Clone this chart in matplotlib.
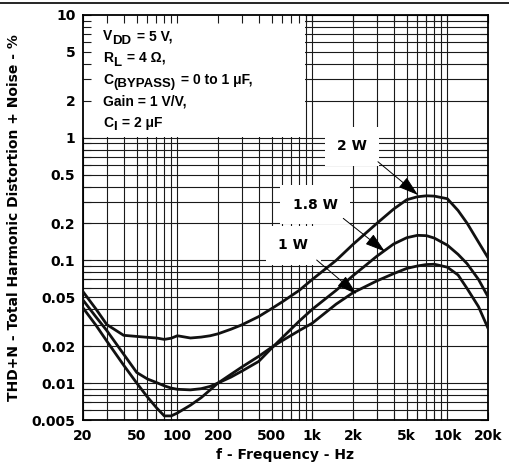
import numpy as np
import matplotlib
matplotlib.use("Agg")
import matplotlib.pyplot as plt
from matplotlib.patches import Rectangle
from matplotlib.lines import Line2D

plt.rcParams['font.family'] = ['DejaVu Sans']
plt.rcParams['font.weight'] = 'bold'
plt.rcParams['font.size'] = 10

# frequency points (Hz)
freq = [20, 25, 30, 40, 50, 60, 70, 80, 90, 100, 125, 150, 175, 200, 250, 300,
        400, 500, 600, 800, 1000, 1500, 2000, 3000, 4000, 5000, 6000, 7000,
        8000, 10000, 12000, 14000, 17000, 20000]

# THD+N (%) per output power
thd_2w = [0.0556, 0.040, 0.030, 0.0245, 0.0240, 0.0236, 0.0233, 0.0227, 0.0232,
          0.0243, 0.0233, 0.0237, 0.0243, 0.0252, 0.0275, 0.0298, 0.0348, 0.0405,
          0.0460, 0.0570, 0.070, 0.100, 0.135, 0.200, 0.262, 0.312, 0.330, 0.336,
          0.334, 0.318, 0.255, 0.201, 0.141, 0.105]
thd_18w = [0.0475, 0.0345, 0.0268, 0.0172, 0.0122, 0.0108, 0.0101, 0.0095, 0.0091,
           0.0089, 0.0088, 0.0090, 0.0094, 0.0100, 0.0112, 0.0125, 0.0150, 0.0193,
           0.0235, 0.0320, 0.040, 0.057, 0.075, 0.108, 0.136, 0.153, 0.160, 0.159,
           0.152, 0.133, 0.112, 0.094, 0.070, 0.0506]
thd_1w = [0.041, 0.0295, 0.0220, 0.0140, 0.0100, 0.0077, 0.0063, 0.0054, 0.0054,
          0.0057, 0.0066, 0.0076, 0.0088, 0.0100, 0.0118, 0.0135, 0.0165, 0.0196,
          0.0222, 0.0268, 0.0308, 0.0440, 0.0545, 0.0680, 0.0780, 0.0860, 0.0900,
          0.0925, 0.0930, 0.0880, 0.0760, 0.0590, 0.0420, 0.0280]

x_ticks = [20, 50, 100, 200, 500, 1000, 2000, 5000, 10000, 20000]
x_labels = ['20', '50', '100', '200', '500', '1k', '2k', '5k', '10k', '20k']
y_ticks = [0.005, 0.01, 0.02, 0.05, 0.1, 0.2, 0.5, 1, 2, 5, 10]
y_labels = ['0.005', '0.01', '0.02', '0.05', '0.1', '0.2', '0.5', '1', '2', '5', '10']

# test conditions: (text, is_subscript) pieces per line
conditions = [[('V', False), ('DD', True), (' = 5 V,', False)],
              [('R', False), ('L', True), (' = 4 Ω,', False)],
              [('C', False), ('(BYPASS)', True), (' = 0 to 1 μF,', False)],
              [('Gain = 1 V/V,', False)],
              [('C', False), ('I', True), (' = 2 μF', False)]]

W, H = 510, 470
fig = plt.figure(figsize=(W / 100, H / 100), dpi=100)
ax = fig.add_axes([83 / W, 50 / H, 405 / W, 405 / H])
ax.set_xscale('log')
ax.set_yscale('log')
ax.set_xlim(20, 20000)
ax.set_ylim(0.005, 10)

# dense log grid, drawn by hand so the white boxes can sit on top of it
grid_x = [m * 10 ** e for e in range(1, 5) for m in range(1, 10)]
grid_x = [v for v in grid_x if 20 <= v <= 20000]
grid_y = [m * 10.0 ** e for e in range(-3, 2) for m in range(1, 10)]
grid_y = [v for v in grid_y if 0.005 <= v <= 10]
for v in grid_x:
    ax.axvline(v, color='#1a1a1a', lw=0.8, zorder=0.5)
for v in grid_y:
    ax.axhline(v, color='#1a1a1a', lw=0.8, zorder=0.5)

ax.set_xticks(x_ticks)
ax.set_xticklabels(x_labels)
ax.set_xticks(grid_x, minor=True)
ax.set_yticks(y_ticks)
ax.set_yticklabels(y_labels)
ax.set_yticks(grid_y, minor=True)
ax.xaxis.set_minor_formatter(plt.NullFormatter())
ax.yaxis.set_minor_formatter(plt.NullFormatter())
ax.tick_params(which='both', direction='in', top=True, right=True,
               length=6, width=0.8, color='#1a1a1a', labelsize=10)
ax.tick_params(axis='x', pad=6.5)
ax.tick_params(axis='y', pad=5.5)
for s in ax.spines.values():
    s.set_linewidth(1.3)

# conditions box
ax.add_patch(Rectangle((20, 1.02), 880 - 20, 10 - 1.02, facecolor='white',
                       edgecolor='none', zorder=1))
renderer = fig.canvas.get_renderer()
baselines = [40.5, 62, 84, 105.5, 127]  # pixels from top
for parts, yb in zip(conditions, baselines):
    xp = 103
    for txt, sub in parts:
        y = H - yb - (3.5 if sub else 0)
        t = fig.text(xp / W, y / H, txt, va='baseline', ha='left',
                     fontsize=9.5 if sub else 10, fontweight='bold',
                     family=['Liberation Sans', 'DejaVu Sans'], zorder=4)
        xp = t.get_window_extent(renderer).x1 + (1.5 if sub else 0)

# curves
for thd in (thd_2w, thd_18w, thd_1w):
    ax.plot(freq, thd, color='#111111', lw=2.0, zorder=3,
            solid_joinstyle='round')

# labels with arrows
box = dict(boxstyle='square,pad=0.9', facecolor='white', edgecolor='none')
ax.text(1967, 0.855, '2 W', ha='center', va='center', bbox=box, zorder=2)
ax.text(1047, 0.283, '1.8 W', ha='center', va='center', bbox=box, zorder=2)
ax.text(722, 0.133, '1 W', ha='center', va='center', bbox=box, zorder=2)
arrow = dict(arrowstyle='-|>,head_length=0.9,head_width=0.28', lw=0.7,
             color='black', mutation_scale=14, shrinkA=0, shrinkB=0)
ax.annotate('', xy=(6060, 0.341), xytext=(3060, 0.637), arrowprops=arrow, zorder=5)
ax.annotate('', xy=(3450, 0.118), xytext=(1694, 0.220), arrowprops=arrow, zorder=5)
ax.annotate('', xy=(2128, 0.0532), xytext=(1076, 0.1007), arrowprops=arrow, zorder=5)

ax.set_xlabel('f - Frequency - Hz', fontsize=10, fontweight='bold')
ax.set_ylabel('THD+N - Total Harmonic Distortion + Noise - %', fontsize=10,
              fontweight='bold')
ax.xaxis.set_label_coords(0.5, -0.07)
ax.yaxis.set_label_coords(-0.153, 0.5)

# page border line at top
fig.add_artist(Line2D([0, 1], [1 - 3 / H, 1 - 3 / H], color='black', lw=1.2))

fig.savefig('out.png', dpi=100)
